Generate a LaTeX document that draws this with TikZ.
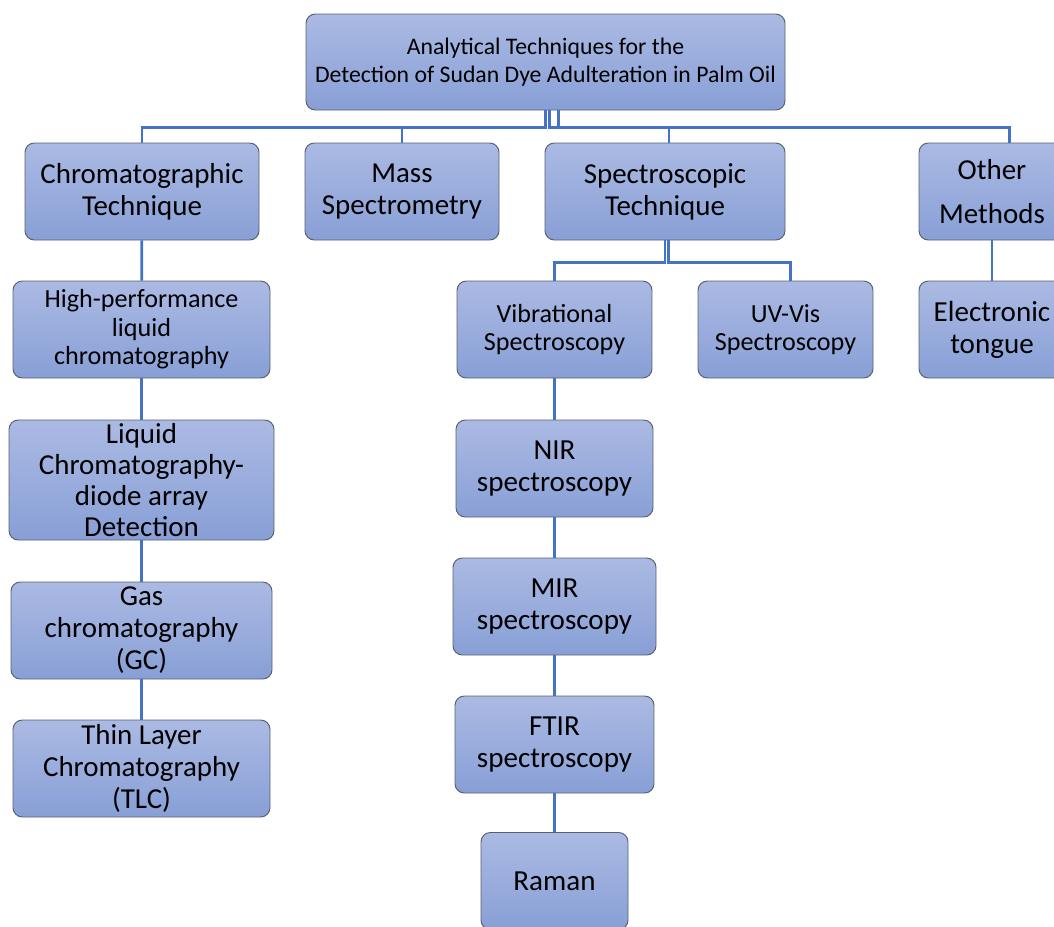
\documentclass[tikz,border=0pt]{standalone}
\usepackage{fontspec}
\setmainfont{Carlito}
\usepackage{xcolor}
\usetikzlibrary{positioning, calc}
\definecolor{boxtop}{RGB}{171,186,227}
\definecolor{boxbot}{RGB}{136,159,214}
\definecolor{boxline}{RGB}{88,96,112}
\definecolor{linkblue}{RGB}{68,114,196}

\tikzset{
  techbox/.style={draw=boxline, line width=0.7pt, rounded corners=7pt, top color=boxtop, bottom color=boxbot, align=center, inner sep=2pt, text=black},
  sized/.style 2 args={minimum width=#1*0.75pt, minimum height=#2*0.75pt},
  toptxt/.style={font=\fontsize{17.8}{21}\selectfont},
  bigtxt/.style={font=\fontsize{21.7}{24}\selectfont},
  midtxt/.style={font=\fontsize{21.8}{24}\selectfont},
  smalltxt/.style={font=\fontsize{19.6}{21.4}\selectfont},
  link/.style={draw=linkblue, line width=2.1pt},
}

\begin{document}
\begin{tikzpicture}[x=0.75pt, y=-0.75pt]
        \useasboundingbox (0,0) rectangle (1054,926);

        % root
        \node[techbox, toptxt, sized={479}{96}] (root) at (545.5,62) {Analytical Techniques for the\\Detection of Sudan Dye Adulteration in Palm Oil};

        % first level
        \node[techbox, bigtxt, sized={234}{97}] (chrom) at (142,191.5) {Chromatographic\\Technique};
        \node[techbox, bigtxt, sized={194}{97}] (mass) at (402,191.5) {Mass\\Spectrometry};
        \node[techbox, bigtxt, sized={240}{97}] (spec) at (665,191.5) {Spectroscopic\\Technique};
        \node[techbox, bigtxt, sized={146}{97}] (other) at (992,191.5) {Other\\[9pt]Methods};

        % chromatographic branch
        \node[techbox, smalltxt, sized={257}{97}] (hplc) at (141.5,329.5) {High-performance\\liquid\\chromatography};
        \node[techbox, bigtxt, sized={265}{120}, font=\fontsize{21.7}{23.3}\selectfont] (lcdad) at (141.5,480) {Liquid\\Chromatography-\\diode array\\Detection};
        \node[techbox, bigtxt, sized={261}{97}] (gc) at (141.5,630.5) {Gas\\chromatography\\(GC)};
        \node[techbox, bigtxt, sized={257}{97}] (tlc) at (141.5,768.5) {Thin Layer\\Chromatography\\(TLC)};

        % spectroscopic branch
        \node[techbox, smalltxt, sized={195}{97}] (vib) at (554.5,329.5) {Vibrational\\Spectroscopy};
        \node[techbox, smalltxt, sized={175}{97}] (uvvis) at (785.5,329.5) {UV-Vis\\Spectroscopy};
        \node[techbox, midtxt, sized={197}{97}] (nir) at (554.5,468.5) {NIR\\spectroscopy};
        \node[techbox, midtxt, sized={203}{97}] (mir) at (554.5,606.5) {MIR\\spectroscopy};
        \node[techbox, midtxt, sized={199}{97}] (ftir) at (554.5,744.5) {FTIR\\spectroscopy};
        \node[techbox, midtxt, sized={147}{97}] (raman) at (554.5,881) {Raman};

        % other methods
        \node[techbox, midtxt, sized={146}{97}] (tongue) at (992,329.5) {Electronic\\tongue};

        % connectors
        \draw[link] (root.south) -- ++(0,17) -| (chrom.north);
        \draw[link] (root.south) -- ++(0,17) -| (mass.north);
        \draw[link] ([xshift=3pt]root.south) -- ++(0,17) -| ([xshift=3pt]spec.north);
        \draw[link] ([xshift=10pt]root.south) -- ++(0,17) -| ([xshift=13pt]other.north);

        \draw[link] (spec.south) -- ++(0,22) -| (vib.north);
        \draw[link] ([xshift=2.5pt]spec.south) -- ++(0,22) -| ([xshift=3.5pt]uvvis.north);

        \draw[link] (chrom) -- (hplc);
        \draw[link] (hplc) -- (lcdad);
        \draw[link] (lcdad) -- (gc);
        \draw[link] (gc) -- (tlc);

        \draw[link] (vib) -- (nir);
        \draw[link] (nir) -- (mir);
        \draw[link] (mir) -- (ftir);
        \draw[link] (ftir) -- (raman);

        \draw[link] (other) -- (tongue);
\end{tikzpicture}
\end{document}
